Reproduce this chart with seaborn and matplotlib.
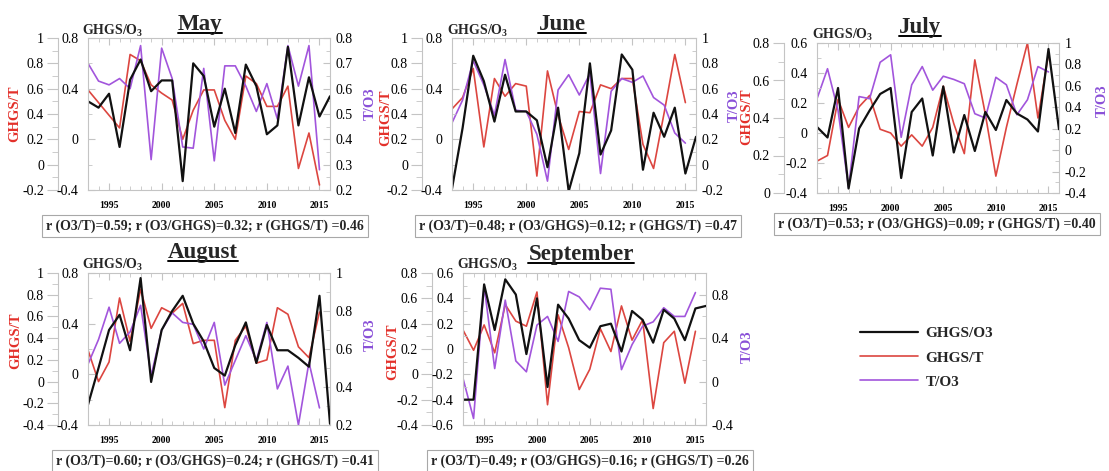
import numpy as np
import pandas as pd
import matplotlib
matplotlib.use("Agg")
import matplotlib.pyplot as plt
import seaborn as sns
from matplotlib.ticker import MultipleLocator, FixedLocator, FuncFormatter, AutoMinorLocator
from matplotlib.lines import Line2D

# ---------------- data ----------------
years = list(range(1993, 2017))
series_names = ["GHGS/O3", "GHGS/T", "T/O3"]

may_ghgs_o3 = [0.30, 0.25, 0.36, -0.06, 0.47, 0.63, 0.38, 0.465, 0.465, -0.33, 0.60, 0.50,
               0.10, 0.40, 0.05, 0.59, 0.42, 0.04, 0.11, 0.73, 0.11, 0.49, 0.18, 0.34]
may_ghgs_t = [0.59, 0.49, 0.39, 0.29, 0.87, 0.82, 0.63, 0.565, 0.51, 0.20, 0.43, 0.59,
              0.59, 0.35, 0.20, 0.70, 0.64, 0.46, 0.46, 0.62, -0.03, 0.25, -0.16]
may_t_o3 = [0.70, 0.63, 0.615, 0.64, 0.60, 0.77, 0.32, 0.76, 0.64, 0.37, 0.365, 0.68,
            0.315, 0.69, 0.69, 0.61, 0.51, 0.62, 0.48, 0.77, 0.61, 0.77, 0.28]

jun_ghgs_o3 = [-0.39, 0.09, 0.66, 0.46, 0.14, 0.51, 0.22, 0.22, 0.15, -0.22, 0.25, -0.41,
               -0.11, 0.60, -0.12, 0.07, 0.67, 0.55, -0.24, 0.21, 0.02, 0.25, -0.27, 0.02]
jun_ghgs_t = [0.44, 0.53, 0.76, 0.14, 0.68, 0.54, 0.64, 0.62, -0.09, 0.74, 0.39, 0.12,
              0.42, 0.41, 0.63, 0.60, 0.68, 0.68, 0.16, -0.03, 0.41, 0.87, 0.49]
jun_t_o3 = [0.33, 0.51, 0.82, 0.63, 0.39, 0.83, 0.43, 0.42, 0.24, -0.13, 0.59, 0.71,
            0.55, 0.72, -0.07, 0.58, 0.68, 0.65, 0.70, 0.53, 0.47, 0.25, 0.17]

jul_ghgs_o3 = [0.04, -0.03, 0.30, -0.37, 0.03, 0.15, 0.26, 0.30, -0.30, 0.14, 0.23, -0.15,
               0.31, -0.13, 0.12, -0.12, 0.14, 0.02, 0.22, 0.13, 0.09, 0.01, 0.56, 0.025]
jul_ghgs_t = [0.17, 0.20, 0.50, 0.35, 0.46, 0.52, 0.34, 0.32, 0.25, 0.31, 0.25, 0.35,
              0.57, 0.37, 0.21, 0.71, 0.42, 0.09, 0.35, 0.58, 0.80, 0.40, 0.74]
jul_t_o3 = [0.48, 0.76, 0.37, -0.35, 0.50, 0.48, 0.82, 0.89, 0.12, 0.61, 0.78, 0.56,
            0.69, 0.66, 0.62, 0.34, 0.30, 0.68, 0.61, 0.33, 0.47, 0.78, 0.73]

aug_ghgs_o3 = [-0.24, 0.05, 0.35, 0.47, 0.19, 0.76, -0.06, 0.35, 0.50, 0.62, 0.40, 0.26,
               0.05, -0.01, 0.23, 0.41, 0.09, 0.39, 0.19, 0.19, 0.13, 0.06, 0.62, -0.39]
aug_ghgs_t = [0.29, 0.00, 0.18, 0.77, 0.37, 0.85, 0.49, 0.68, 0.63, 0.72, 0.35, 0.38,
              0.38, -0.24, 0.38, 0.51, 0.17, 0.20, 0.68, 0.62, 0.32, 0.22, 0.64]
aug_t_o3 = [0.52, 0.65, 0.82, 0.63, 0.69, 0.83, 0.46, 0.70, 0.79, 0.74, 0.73, 0.60,
            0.74, 0.41, 0.54, 0.67, 0.54, 0.74, 0.39, 0.51, 0.20, 0.53, 0.29]

sep_ghgs_o3 = [-0.40, -0.40, 0.51, 0.15, 0.55, 0.43, -0.04, 0.40, -0.30, 0.35, 0.24, 0.07,
               0.01, 0.18, 0.20, -0.02, 0.30, 0.23, 0.05, 0.31, 0.24, 0.07, 0.32, 0.34]
sep_ghgs_t = [0.35, 0.19, 0.39, 0.17, 0.55, 0.42, 0.38, 0.65, -0.24, 0.47, 0.21, -0.12,
              0.04, 0.36, 0.18, 0.54, 0.27, 0.43, -0.27, 0.25, 0.34, -0.07, 0.34]
sep_t_o3 = [0.03, -0.34, 0.88, 0.12, 0.75, 0.19, 0.09, 0.52, 0.60, 0.37, 0.83, 0.78,
            0.66, 0.86, 0.85, 0.11, 0.34, 0.51, 0.55, 0.68, 0.60, 0.60, 0.82]

months = ["May", "June", "July", "August", "September"]
correlations = [
    "r (O3/T)=0.59; r (O3/GHGS)=0.32; r (GHGS/T) =0.46",
    "r (O3/T)=0.48; r (O3/GHGS)=0.12; r (GHGS/T) =0.47",
    "r (O3/T)=0.53; r (O3/GHGS)=0.09; r (GHGS/T) =0.40",
    "r (O3/T)=0.60; r (O3/GHGS)=0.24; r (GHGS/T) =0.41",
    "r (O3/T)=0.49; r (O3/GHGS)=0.16; r (GHGS/T) =0.26",
]
x_ticks = [1995, 2000, 2005, 2010, 2015]

# ---------------- style ----------------
sns.set_style("white")
plt.rcParams['font.family'] = ['Liberation Serif', 'DejaVu Serif']
plt.rcParams['mathtext.fontset'] = 'custom'
plt.rcParams['mathtext.rm'] = 'Liberation Serif:bold'
plt.rcParams['mathtext.bf'] = 'Liberation Serif:bold'
plt.rcParams['mathtext.it'] = 'Liberation Serif:bold:italic'
plt.rcParams['axes.unicode_minus'] = False

W, H = 1109, 471
fig = plt.figure(figsize=(W / 100, H / 100), dpi=100)

GRAY = '#c4c4c4'
C_BLACK = '#111111'
C_RED = '#dc4640'
C_PURPLE = '#a255dc'
C_RED_LAB = '#e3302a'
C_PUR_LAB = '#8a50d8'


def rect(x0, y0, x1, y1):
    return [x0 / W, 1 - y1 / H, (x1 - x0) / W, (y1 - y0) / H]


def fmt(v, pos):
    s = f"{round(v, 3):g}"
    return "0" if s == "-0" else s


panels = [
    dict(data=(may_ghgs_o3, may_ghgs_t, may_t_o3), box=(88, 38, 330, 190), off=30,
         red=(-0.2, 1.0, 0.2), blk=(-0.4, 0.8, 0.4), pur=(0.2, 0.8, [0.2, 0.3, 0.4, 0.5, 0.6, 0.7, 0.8]),
         title=(200, 30), lab=(82, 35), gt=(15, 114), to=(370, 104), corr=(205, 226)),
    dict(data=(jun_ghgs_o3, jun_ghgs_t, jun_t_o3), box=(452, 38, 696, 190), off=30,
         red=(-0.2, 1.0, 0.2), blk=(-0.4, 0.8, 0.4), pur=(-0.2, 1.0, [-0.2, 0, 0.2, 0.4, 0.6, 0.8, 1.0]),
         title=(562, 30), lab=(447, 35), gt=(386, 118), to=(734, 106), corr=(578, 226)),
    dict(data=(jul_ghgs_o3, jul_ghgs_t, jul_t_o3), box=(817, 43, 1059, 193), off=33,
         red=(0.0, 0.8, 0.2), blk=(-0.4, 0.6, 0.2), pur=(-0.4, 1.0, [-0.4, -0.2, 0, 0.2, 0.4, 0.6, 0.8, 1.0]),
         title=(920, 33), lab=(812, 39), gt=(747, 117), to=(1102, 101), corr=(937, 224)),
    dict(data=(aug_ghgs_o3, aug_ghgs_t, aug_t_o3), box=(88, 273, 330, 425), off=30,
         red=(-0.4, 1.0, 0.2), blk=(-0.4, 0.8, 0.4), pur=(0.2, 1.0, [0.2, 0.4, 0.6, 0.8, 1.0]),
         title=(203, 258), lab=(82, 269), gt=(16, 341), to=(370, 335), corr=(215, 461)),
    dict(data=(sep_ghgs_o3, sep_ghgs_t, sep_t_o3), box=(463, 273, 706, 425), off=31,
         red=(-0.4, 0.8, 0.2), blk=(-0.6, 0.6, 0.2), pur=(-0.4, 1.0, [-0.4, 0, 0.4, 0.8]),
         title=(581, 260), lab=(457, 269), gt=(393, 352), to=(747, 347), corr=(590, 461)),
]

titles = []
legend_handles = None
for month, corr, p in zip(months, correlations, panels):
    blk_vals, red_vals, pur_vals = p['data']

    # outer-left axis (GHGS/T, red) is the base axes
    ax_r = fig.add_axes(rect(*p['box']))
    ax_p = ax_r.twinx()
    ax_b = ax_r.twinx()

    df_r = pd.DataFrame({'year': years[:len(red_vals)], 'value': red_vals})
    df_p = pd.DataFrame({'year': years[:len(pur_vals)], 'value': pur_vals})
    df_b = pd.DataFrame({'year': years[:len(blk_vals)], 'value': blk_vals})
    sns.lineplot(data=df_r, x='year', y='value', ax=ax_r, color=C_RED, lw=1.2)
    sns.lineplot(data=df_p, x='year', y='value', ax=ax_p, color=C_PURPLE, lw=1.2)
    sns.lineplot(data=df_b, x='year', y='value', ax=ax_b, color=C_BLACK, lw=1.6)

    for a in (ax_r, ax_p, ax_b):
        a.set_xlabel('')
        a.set_ylabel('')
        for s in a.spines.values():
            s.set_color(GRAY)
            s.set_linewidth(0.8)

    ax_r.set_xlim(1993, 2016)
    ax_r.xaxis.set_major_locator(FixedLocator(x_ticks))
    ax_r.xaxis.set_minor_locator(MultipleLocator(1))
    ax_r.tick_params(axis='x', which='both', direction='in', top=True, bottom=True,
                     colors=GRAY, labelcolor='black', labelsize=7, pad=8)
    ax_r.tick_params(axis='x', which='major', length=5)
    ax_r.tick_params(axis='x', which='minor', length=3)
    for lab in ax_r.get_xticklabels():
        lab.set_fontweight('bold')

    # red outer axis
    lo, hi, st = p['red']
    ax_r.set_ylim(lo, hi)
    ax_r.yaxis.set_major_locator(MultipleLocator(st))
    ax_r.yaxis.set_minor_locator(AutoMinorLocator(2))
    ax_r.yaxis.set_major_formatter(FuncFormatter(fmt))
    ax_r.spines['left'].set_position(('outward', p['off'] * 0.72))
    ax_r.spines['right'].set_visible(False)
    ax_r.yaxis.tick_left()
    ax_r.tick_params(axis='y', which='both', direction='out', colors=GRAY,
                     labelcolor='black', labelsize=10, pad=2)
    ax_r.tick_params(axis='y', which='major', length=8)
    ax_r.tick_params(axis='y', which='minor', length=4)

    # purple right axis
    lo, hi, tk = p['pur']
    ax_p.set_ylim(lo, hi)
    ax_p.yaxis.set_major_locator(FixedLocator(tk))
    ax_p.yaxis.set_minor_locator(AutoMinorLocator(2))
    ax_p.yaxis.set_major_formatter(FuncFormatter(fmt))
    for s in ('left', 'top', 'bottom'):
        ax_p.spines[s].set_visible(False)
    ax_p.tick_params(axis='y', which='both', direction='in', colors=GRAY,
                     labelcolor='black', labelsize=10, pad=4)
    ax_p.tick_params(axis='y', which='major', length=5)
    ax_p.tick_params(axis='y', which='minor', length=3)

    # black inner-left axis
    lo, hi, st = p['blk']
    ax_b.set_ylim(lo, hi)
    ax_b.yaxis.set_major_locator(MultipleLocator(st))
    ax_b.yaxis.set_minor_locator(AutoMinorLocator(2))
    ax_b.yaxis.set_major_formatter(FuncFormatter(fmt))
    ax_b.yaxis.tick_left()
    for s in ('right', 'top', 'bottom'):
        ax_b.spines[s].set_visible(False)
    ax_b.tick_params(axis='y', which='both', direction='in', colors=GRAY,
                     labelcolor='black', labelsize=10, pad=7)
    ax_b.tick_params(axis='y', which='major', length=5)
    ax_b.tick_params(axis='y', which='minor', length=3)

    # texts
    tx, ty = p['title']
    t = fig.text(tx / W, 1 - ty / H, month, ha='center', va='baseline',
                 fontsize=16.5, fontweight='bold')
    titles.append((t, ty))
    lx, ly = p['lab']
    fig.text(lx / W, 1 - ly / H, r"GHGS/O$_\mathrm{3}$", ha='left', va='baseline',
             fontsize=10, fontweight='bold')
    gx, gy = p['gt']
    fig.text(gx / W, 1 - gy / H, "GHGS/T", rotation=90, ha='center', va='center',
             fontsize=10.5, fontweight='bold', color=C_RED_LAB)
    ox, oy = p['to']
    fig.text(ox / W, 1 - oy / H, "T/O3", rotation=90, ha='center', va='center',
             fontsize=10.5, fontweight='bold', color=C_PUR_LAB)
    cx, cy = p['corr']
    fig.text(cx / W, 1 - cy / H, corr, ha='center', va='center', fontsize=10,
             fontweight='bold',
             bbox=dict(boxstyle='square,pad=0.3', fc='white', ec='#a8a8a8', lw=0.8))

    if legend_handles is None:
        legend_handles = [ax_b.get_lines()[0], ax_r.get_lines()[0], ax_p.get_lines()[0]]

fig.legend(legend_handles, series_names, loc='upper left',
           bbox_to_anchor=(846 / W, 1 - 313 / H), frameon=False,
           prop=dict(family='Liberation Serif', weight='bold', size=11),
           handlelength=3.8, handletextpad=0.5, labelspacing=0.68)

# underline titles
fig.canvas.draw()
for t, ty in titles:
    bb = t.get_window_extent()
    y = (H - ty - 2.5) / H
    fig.add_artist(Line2D([bb.x0 / W, bb.x1 / W], [y, y], transform=fig.transFigure,
                          color='black', lw=1.4))

fig.savefig("out.png", dpi=100)
